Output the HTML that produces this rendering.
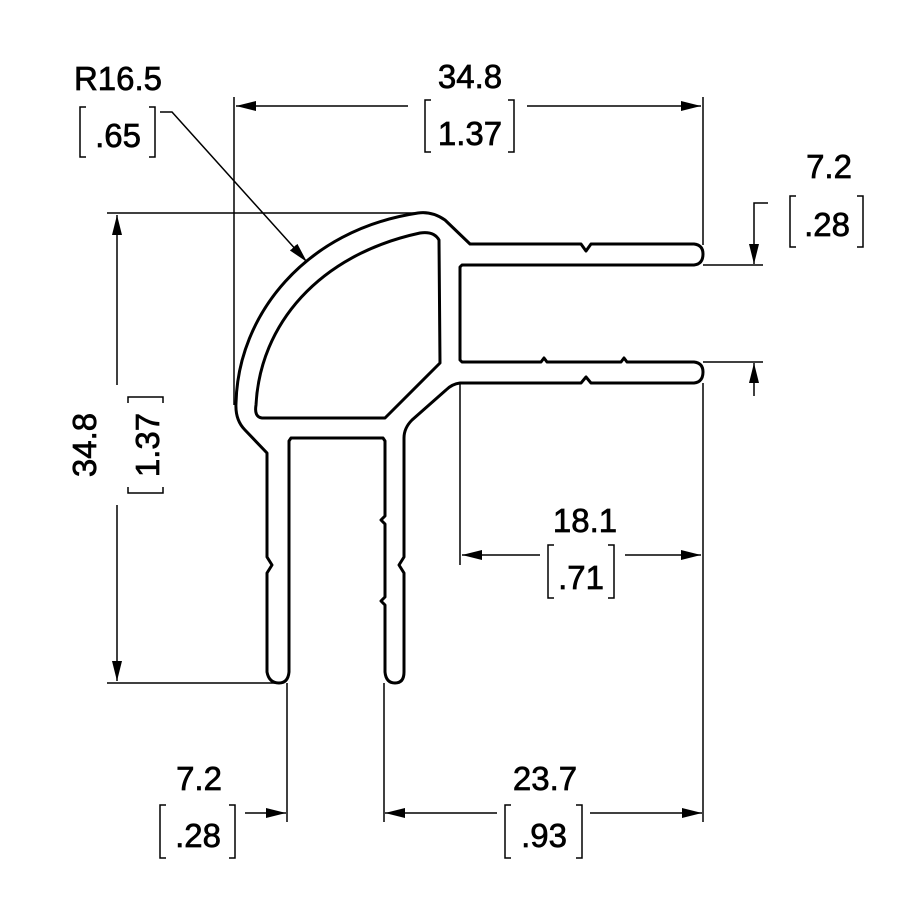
<!DOCTYPE html>
<html><head><style>
html,body{margin:0;padding:0;background:#fff;}
svg{display:block;}
text{font-family:"Liberation Sans","DejaVu Sans",sans-serif;font-size:33px;fill:#000;stroke:#000;stroke-width:0.7;}
</style></head><body>
<svg width="900" height="900" viewBox="0 0 900 900" xmlns="http://www.w3.org/2000/svg">
<defs>
<marker id="a" viewBox="0 0 20 10" refX="20" refY="5" markerWidth="20" markerHeight="10" markerUnits="userSpaceOnUse" orient="auto-start-reverse">
<path d="M0,0 L20,5 L0,10 z" fill="#000"/>
</marker>
</defs>
<g fill="none" stroke="#000" stroke-width="3" stroke-linejoin="round">
<path d="M236,403 C238,315 305,230 418,213 Q432,211 445,220 L470,244 L581,244 L586,251 L591,244 L694,244 Q703,245 703,254 Q703,264 694,265 L462,265 L460,267 L460,360 L462,362 L541,362 L544,358 L547,362 L621,362 L624,358 L627,362 L694,362 Q703,363 703,372 Q703,382 694,383 L591,383 L586,377 L581,383 L460,383 Q452,384 446,390 L412,420 Q404,428 404,438 L404,557 L399,565 L404,573 L404,672 Q404,683 395,683 Q386,683 385,672 L385,605 L381,601 L385,597 L385,524 L381,520 L385,516 L385,441 L383,438 L291,438 L289,441 L289,672 Q288,683 279,683 Q269,683 267,672 L267,573 L272,565 L267,557 L267,453 L245,430 Q235,420 236,403 Z"/>
<path d="M262,418 Q254,417 256,405 C260,325 318,255 420,233 Q434,231 439,240 L440,363 L385,418 Z"/>
</g>
<g fill="none" stroke="#000" stroke-width="1.5">
<line x1="234" y1="97" x2="234" y2="405"/>
<line x1="703" y1="97" x2="703" y2="245"/>
<line x1="236" y1="106" x2="408" y2="106" marker-start="url(#a)"/>
<line x1="527" y1="106" x2="701" y2="106" marker-end="url(#a)"/>
<line x1="107" y1="213" x2="425" y2="213"/>
<line x1="107" y1="683" x2="275" y2="683"/>
<line x1="117" y1="215" x2="117" y2="385" marker-start="url(#a)"/>
<line x1="117" y1="505" x2="117" y2="681" marker-end="url(#a)"/>
<polyline points="160,112 172,112 307,262" marker-end="url(#a)"/>
<line x1="703" y1="265" x2="763" y2="265"/>
<line x1="703" y1="362" x2="763" y2="362"/>
<polyline points="768,203 754,203 754,264" marker-end="url(#a)"/>
<line x1="754" y1="396" x2="754" y2="363" marker-end="url(#a)"/>
<line x1="460" y1="383" x2="460" y2="565"/>
<line x1="703" y1="383" x2="703" y2="822"/>
<line x1="540" y1="555" x2="462" y2="555" marker-end="url(#a)"/>
<line x1="625" y1="555" x2="701" y2="555" marker-end="url(#a)"/>
<line x1="287" y1="683" x2="287" y2="822"/>
<line x1="384" y1="683" x2="384" y2="822"/>
<line x1="245" y1="813" x2="286" y2="813" marker-end="url(#a)"/>
<line x1="497" y1="813" x2="385" y2="813" marker-end="url(#a)"/>
<line x1="590" y1="813" x2="702" y2="813" marker-end="url(#a)"/>
<polyline points="86,107 80,107 80,157 86,157"/>
<polyline points="149,107 155,107 155,157 149,157"/>
<polyline points="431,100 425,100 425,152 431,152"/>
<polyline points="508,100 514,100 514,152 508,152"/>
<polyline points="796,196 790,196 790,247 796,247"/>
<polyline points="857,196 863,196 863,247 857,247"/>
<polyline points="554,545 548,545 548,598 554,598"/>
<polyline points="608,545 614,545 614,598 608,598"/>
<polyline points="166,805 160,805 160,858 166,858"/>
<polyline points="229,805 235,805 235,858 229,858"/>
<polyline points="511,805 505,805 505,858 511,858"/>
<polyline points="576,805 582,805 582,858 576,858"/>
<polyline points="128,403 128,397 163,397 163,403"/>
<polyline points="128,487 128,493 163,493 163,487"/>
</g>
<g>
<text x="118" y="90" text-anchor="middle">R16.5</text>
<text x="118" y="147" text-anchor="middle">.65</text>
<text x="470" y="88" text-anchor="middle">34.8</text>
<text x="470" y="145" text-anchor="middle">1.37</text>
<text x="829" y="178" text-anchor="middle">7.2</text>
<text x="827" y="236" text-anchor="middle">.28</text>
<text x="585" y="532" text-anchor="middle">18.1</text>
<text x="581" y="589" text-anchor="middle">.71</text>
<text x="199" y="790" text-anchor="middle">7.2</text>
<text x="198" y="847" text-anchor="middle">.28</text>
<text x="545" y="790" text-anchor="middle">23.7</text>
<text x="544" y="847" text-anchor="middle">.93</text>
<g transform="translate(96,445) rotate(-90)"><text x="0" y="0" text-anchor="middle">34.8</text></g>
<g transform="translate(159,445) rotate(-90)"><text x="0" y="0" text-anchor="middle">1.37</text></g>
</g>
</svg>
</body></html>
